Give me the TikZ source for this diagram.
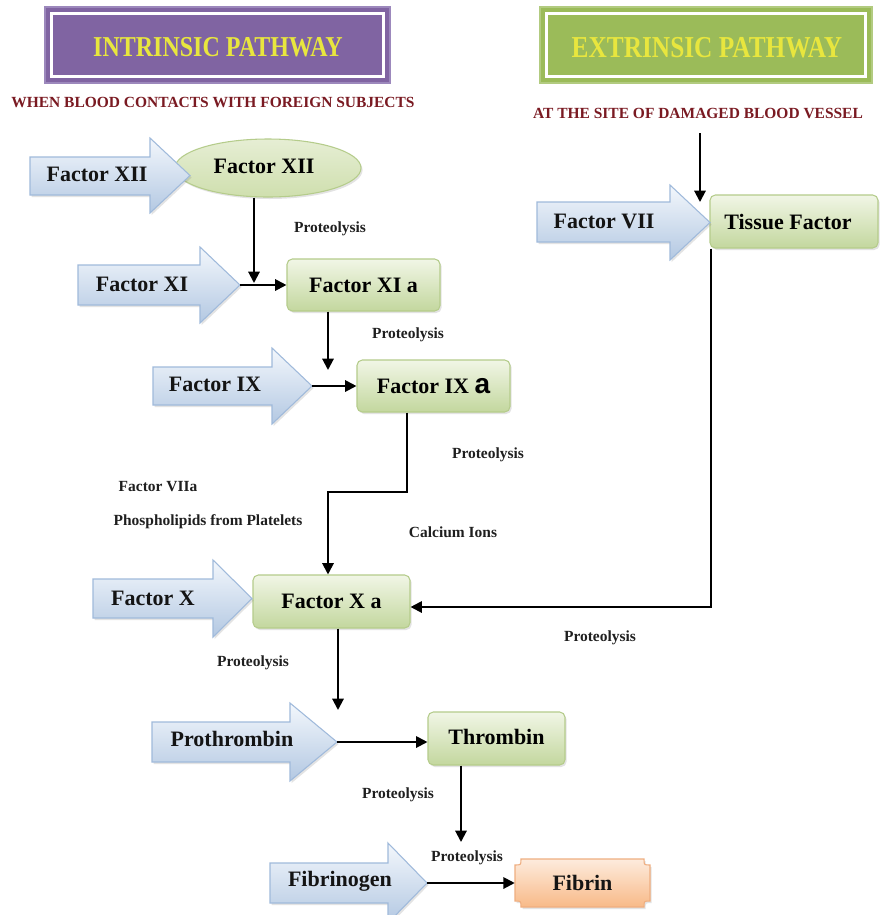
\documentclass[tikz,border=0pt]{standalone}
\usepackage{graphicx}
\usepackage{fontspec}
\setmainfont{Liberation Serif}
\newfontfamily\bigafont{Liberation Sans}
\usetikzlibrary{arrows.meta,shapes.geometric,shadows}

\definecolor{purpfill}{HTML}{8064A2}
\definecolor{purpedge}{HTML}{9C88BC}
\definecolor{grnfill}{HTML}{9BBB59}
\definecolor{grnedge}{HTML}{B2CB80}
\definecolor{hdtext}{HTML}{E8E63E}
\definecolor{subred}{HTML}{7A1A22}
\definecolor{arrtop}{HTML}{F3F7FC}
\definecolor{arrbot}{HTML}{B3C8E2}
\definecolor{arredge}{HTML}{A0BADB}
\definecolor{boxtop}{HTML}{F1F6E6}
\definecolor{boxbot}{HTML}{C3D79E}
\definecolor{boxedge}{HTML}{B5CC8B}
\definecolor{elltop}{HTML}{E6EED4}
\definecolor{ellbot}{HTML}{CFDFAE}
\definecolor{fibtop}{HTML}{FDEBDD}
\definecolor{fibbot}{HTML}{F8BA88}
\definecolor{fibedge}{HTML}{EFAE80}

\newcommand\pxu{0.75pt}

\tikzset{
  hdrbox/.style={draw=#1edge, fill=#1fill, line width=1pt, inner sep=0pt},
  hdrtext/.style={text=hdtext, inner sep=0pt, font=\fontsize{#1}{#1}\selectfont\bfseries},
  subtitle/.style={text=subred, inner sep=0pt, font=\fontsize{11.6}{13}\selectfont\bfseries},
  lbl/.style={inner sep=0pt, font=\fontsize{16.5}{18}\selectfont\bfseries, text=black!92},
  note/.style={inner sep=0pt, font=\fontsize{11.6}{13}\selectfont\bfseries, text=black!88},
  softshadow/.style={drop shadow={opacity=0.22, shadow xshift=1.2pt, shadow yshift=-1.5pt}},
  barrow/.style={draw=arredge, line width=0.8pt, top color=arrtop, bottom color=arrbot, softshadow},
  gbox/.style={draw=boxedge, line width=0.8pt, rounded corners=4pt, top color=boxtop,
    bottom color=boxbot, softshadow, inner sep=0pt, font=\fontsize{16.5}{18}\selectfont\bfseries},
  fibshape/.style={draw=fibedge, line width=0.8pt, top color=fibtop, bottom color=fibbot, softshadow},
  conn/.style={line width=1.5pt, -{Triangle[length=8.5pt,width=8.5pt]}},
}

\begin{document}
\begin{tikzpicture}[x=0.75pt, y=-0.75pt]
\fill[white] (0,0) rectangle (880,915);
\clip (0,0) rectangle (880,915);

% ---- pathway headers ----
\node[hdrbox=purp, minimum width=345*\pxu, minimum height=76*\pxu] (intrbox) at (217.5,45) {};
\draw[white, line width=1.8pt] ([shift={(7,7)}]intrbox.north west) rectangle ([shift={(-7,-7)}]intrbox.south east);
\node[hdrtext=18] (intr) at (218,47) {\scalebox{1}[1.2]{INTRINSIC PATHWAY}};

\node[hdrbox=grn, minimum width=332*\pxu, minimum height=76*\pxu] (extrbox) at (706,45) {};
\draw[white, line width=1.8pt] ([shift={(7,7)}]extrbox.north west) rectangle ([shift={(-7,-7)}]extrbox.south east);
\node[hdrtext=19] (extr) at (707,48) {\scalebox{1}[1.2]{EXTRINSIC PATHWAY}};

\node[subtitle] (sub1) at (213,102) {WHEN BLOOD CONTACTS WITH FOREIGN SUBJECTS};
\node[subtitle] (sub2) at (698,113) {AT THE SITE OF DAMAGED BLOOD VESSEL};

% ---- product boxes ----
\node[ellipse, draw=boxedge, line width=0.8pt, top color=elltop, bottom color=ellbot, softshadow,
      minimum width=186*\pxu, minimum height=58*\pxu, inner sep=0pt,
      font=\fontsize{16.5}{18}\selectfont\bfseries] (f12e) at (268,168) {\raisebox{3pt}{Factor XII\hspace*{6pt}}};
\node[gbox, minimum width=168*\pxu, minimum height=53*\pxu] (tis) at (794,221.5) {Tissue Factor\hspace*{9pt}};
\node[gbox, minimum width=153*\pxu, minimum height=52*\pxu] (f11a) at (363.5,285) {Factor XI a};
\node[gbox, minimum width=153*\pxu, minimum height=52*\pxu] (f9a) at (433.5,386) {Factor IX {\bigafont\bfseries\fontsize{21}{21}\selectfont a}};
\node[gbox, minimum width=157*\pxu, minimum height=53*\pxu] (f10a) at (331.5,601.5) {Factor X a};
\node[gbox, minimum width=137*\pxu, minimum height=53*\pxu] (thr) at (496.5,738.5) {\raisebox{3pt}{Thrombin}};
\path[fibshape] (521,859) -- (644,859) .. controls (644,865) .. (650,865) -- (650,901)
  .. controls (644,901) .. (644,907) -- (521,907) .. controls (521,901) .. (515,901)
  -- (515,865) .. controls (521,865) .. (521,859) -- cycle;
\node[lbl, minimum width=135*\pxu, minimum height=48*\pxu] (fib) at (582.5,883) {Fibrin};

% ---- block arrows (precursors) ----
\path[barrow] (30,157) -- (150,157) -- (150,138) -- (190,175.5) -- (150,213) -- (150,195) -- (30,195) -- cycle;
\node[lbl] (f12) at (97,174) {Factor XII};
\coordinate (f12tip) at (190,175.5);

\path[barrow] (537,202) -- (670,202) -- (670,185) -- (710,222.5) -- (670,260) -- (670,242) -- (537,242) -- cycle;
\node[lbl] (f7) at (604,221) {Factor VII};

\path[barrow] (78,265) -- (200,265) -- (200,247) -- (240,285) -- (200,323) -- (200,305) -- (78,305) -- cycle;
\node[lbl] (f11) at (142,284) {Factor XI};
\coordinate (f11tip) at (240,285);

\path[barrow] (153,367) -- (272,367) -- (272,348) -- (312,386) -- (272,424) -- (272,405) -- (153,405) -- cycle;
\node[lbl] (f9) at (215,384) {Factor IX};
\coordinate (f9tip) at (312,386);

\path[barrow] (93,579) -- (213,579) -- (213,560) -- (252,598.5) -- (213,637) -- (213,618) -- (93,618) -- cycle;
\node[lbl] (f10) at (153,598) {Factor X};

\path[barrow] (152,722) -- (290,722) -- (290,703) -- (337,742) -- (290,781) -- (290,762) -- (152,762) -- cycle;
\node[lbl] (pro) at (232,739) {Prothrombin};
\coordinate (protip) at (337,742);

\path[barrow] (270,863) -- (388,863) -- (388,843) -- (427,883) -- (388,923) -- (388,903) -- (270,903) -- cycle;
\node[lbl] (fgn) at (340,881) {Fibrinogen};
\coordinate (fgntip) at (427,883);

% ---- reaction labels ----
\node[note] (p1) at (330,229) {Proteolysis};
\node[note] (p2) at (408,335) {Proteolysis};
\node[note] (p3) at (488,455) {Proteolysis};
\node[note] (cof1) at (158,487) {Factor VIIa};
\node[note] (cof2) at (208,522) {Phospholipids from Platelets};
\node[note] (cof3) at (453,532) {Calcium Ions};
\node[note] (p4) at (600,638) {Proteolysis};
\node[note] (p5) at (253,663) {Proteolysis};
\node[note] (p6) at (398,795) {Proteolysis};
\node[note] (p7) at (467,858) {Proteolysis};

% ---- connector end points ----
\coordinate (vsrc) at (700,133);
\coordinate (vdst) at (700,202);
\coordinate (j11) at (254,283);
\coordinate (j9) at (328,370);
\coordinate (bendA) at (407,492);
\coordinate (bendB) at (328,492);
\coordinate (tcorner) at (711,607);
\coordinate (pdrop) at (338,710);
\coordinate (fdrop) at (461,842);

% ---- connectors ----
\draw[conn] (vsrc) -- (vdst);
\draw[conn] (f12e.south -| j11) -- (j11);
\draw[conn] (f11tip) -- (f11tip -| f11a.west);
\draw[conn] (f11a.south -| j9) -- (j9);
\draw[conn] (f9tip) -- (f9tip -| f9a.west);
\draw[conn] (f9a.south -| bendA) -- (bendA) -- (bendB) -- (bendB |- f10a.north);
\draw[conn] (tis.south -| tcorner) -- (tcorner) -- (tcorner -| f10a.east);
\draw[conn] (f10a.south -| pdrop) -- (pdrop);
\draw[conn] (protip) -- (protip -| thr.west);
\draw[conn] (thr.south -| fdrop) -- (fdrop);
\draw[conn] (fgntip) -- (fgntip -| fib.west);
\end{tikzpicture}
\end{document}
